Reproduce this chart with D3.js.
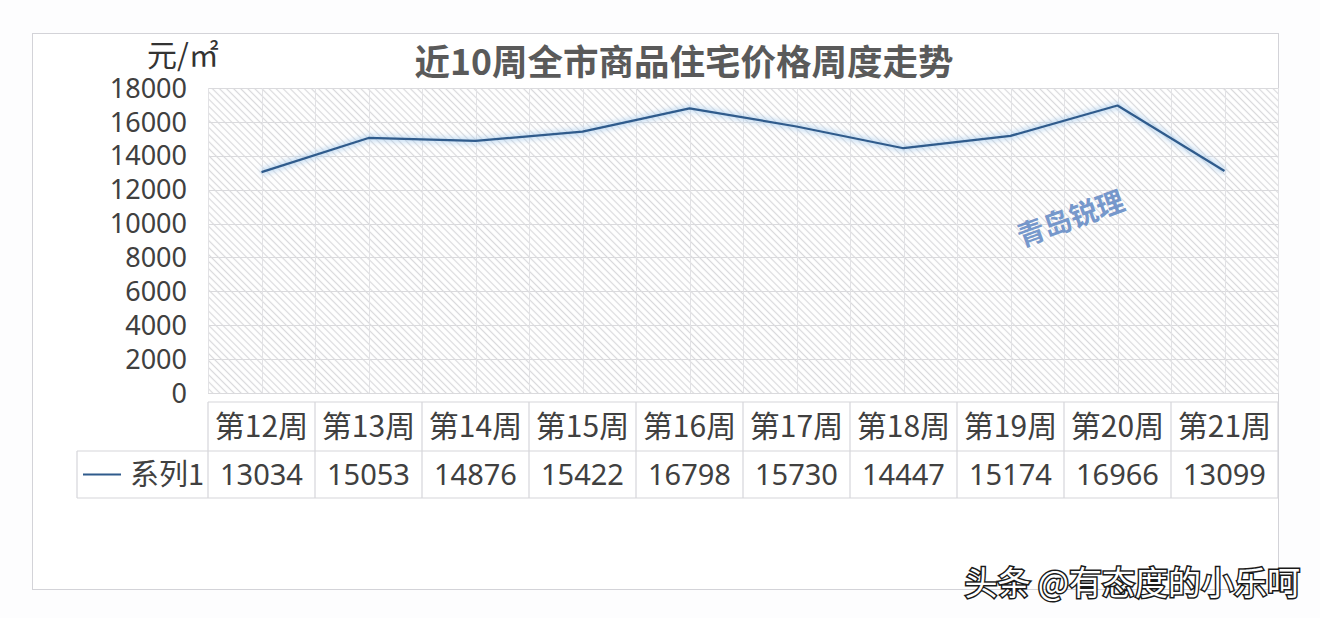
<!DOCTYPE html>
<html>
<head>
<meta charset="utf-8">
<script src="https://cdn.jsdelivr.net/npm/d3@7"></script>
<style>
  html, body { margin: 0; padding: 0; background: #fdfdfe; }
  svg { display: block; }
  text { font-family: "Noto Sans CJK SC", "Noto Sans", sans-serif; }
</style>
</head>
<body>
<svg id="chart" width="1320" height="618"></svg>
<script>
const categories = ["第12周","第13周","第14周","第15周","第16周","第17周","第18周","第19周","第20周","第21周"];
const values = [13034, 15053, 14876, 15422, 16798, 15730, 14447, 15174, 16966, 13099];
const yTicks = [0, 2000, 4000, 6000, 8000, 10000, 12000, 14000, 16000, 18000];
const seriesName = "系列1";
const title = "近10周全市商品住宅价格周度走势";
const unitLabel = "元/㎡";
const watermark = "青岛锐理";
const footer = "头条 @有态度的小乐呵";

const svg = d3.select("#chart");
const W = 1320, H = 618;
const plot = { x0: 208, x1: 1278, y0: 88, y1: 393 };
const table = { top: 402, mid: 451, bottom: 498, legendLeft: 77 };
const textColor = "#404040";
const gridColor = "#dadadd";
const lineColor = "#2f5b8c";

// background
svg.append("rect").attr("width", W).attr("height", H).attr("fill", "#fdfdfe");
// outer chart border
svg.append("rect").attr("x", 32.5).attr("y", 33.5).attr("width", 1246).attr("height", 556)
  .attr("fill", "#ffffff").attr("stroke", "#d3d3d8").attr("stroke-width", 1);

const x = d3.scaleBand().domain(categories).range([plot.x0, plot.x1]).padding(0);
const y = d3.scaleLinear().domain([0, 18000]).range([plot.y1, plot.y0]);

// hatch pattern
const defs = svg.append("defs");
const pat = defs.append("pattern").attr("id", "hatch").attr("patternUnits", "userSpaceOnUse")
  .attr("width", 8).attr("height", 5).attr("patternTransform", "rotate(45)");
pat.append("rect").attr("width", 8).attr("height", 5).attr("fill", "#ffffff");
pat.append("line").attr("x1", 0).attr("y1", 2.5).attr("x2", 8).attr("y2", 2.5)
  .attr("stroke", "#d9d9dc").attr("stroke-width", 1.2);
const glow = defs.append("filter").attr("id", "glow").attr("x", "-5%").attr("y", "-20%").attr("width", "110%").attr("height", "140%");
glow.append("feGaussianBlur").attr("stdDeviation", 2.5);

svg.append("rect").attr("x", plot.x0).attr("y", plot.y0)
  .attr("width", plot.x1 - plot.x0).attr("height", plot.y1 - plot.y0)
  .attr("fill", "url(#hatch)");

// gridlines: horizontal
svg.append("g").selectAll("line").data(yTicks).join("line")
  .attr("x1", plot.x0).attr("x2", plot.x1)
  .attr("y1", d => Math.round(y(d)) + 0.5).attr("y2", d => Math.round(y(d)) + 0.5)
  .attr("stroke", gridColor).attr("stroke-width", 1);
// gridlines: vertical at category boundaries and centres
const vLines = [];
categories.forEach(c => { vLines.push(x(c)); vLines.push(x(c) + x.bandwidth() / 2); });
vLines.push(plot.x1);
svg.append("g").selectAll("line").data(vLines).join("line")
  .attr("x1", d => Math.round(d) + 0.5).attr("x2", d => Math.round(d) + 0.5)
  .attr("y1", plot.y0).attr("y2", plot.y1)
  .attr("stroke", "#e2e2e5").attr("stroke-width", 1);

// y axis labels
const yAxis = d3.axisLeft(y).tickValues(yTicks).tickSize(0).tickPadding(21).tickFormat(d3.format("d"));
const gy = svg.append("g").attr("transform", `translate(${plot.x0},0)`).call(yAxis);
gy.select(".domain").remove();
gy.selectAll("text").attr("font-size", 27).attr("fill", textColor)
  .style("font-family", "'Noto Sans', 'Open Sans', sans-serif").attr("dy", "0.34em");

// unit label
svg.append("text").attr("x", 147).attr("y", 66).attr("font-size", 30).attr("fill", "#333")
  .text(unitLabel);

// title
svg.append("text").attr("x", 684).attr("y", 75).attr("text-anchor", "middle")
  .attr("font-size", 35.5).attr("font-weight", "bold").attr("fill", "#5a5a5a").text(title);

// line
const lineGen = d3.line().x((d, i) => x(categories[i]) + x.bandwidth() / 2).y(d => y(d));
svg.append("path").datum(values).attr("d", lineGen).attr("fill", "none")
  .attr("stroke", "#a9cdef").attr("stroke-width", 7).attr("stroke-opacity", 0.6)
  .attr("filter", "url(#glow)");
svg.append("path").datum(values).attr("d", lineGen).attr("fill", "none")
  .attr("stroke", lineColor).attr("stroke-width", 2.2).attr("stroke-linejoin", "round");

// watermark
svg.append("text").attr("transform", "translate(1074,228) rotate(-20)")
  .attr("text-anchor", "middle").attr("font-size", 28).attr("font-weight", "bold")
  .attr("fill", "#5f87c4").attr("fill-opacity", 0.85).text(watermark);

// data table
const tg = svg.append("g");
const tl = (x1, y1, x2, y2) => tg.append("line").attr("x1", x1).attr("y1", y1).attr("x2", x2).attr("y2", y2)
  .attr("stroke", "#d6d6da").attr("stroke-width", 1.2);
tl(plot.x0, table.top, plot.x1, table.top);
tl(table.legendLeft, table.mid, plot.x1, table.mid);
tl(table.legendLeft, table.bottom, plot.x1, table.bottom);
tl(table.legendLeft, table.mid, table.legendLeft, table.bottom);
tg.selectAll(".vb").data(categories.map(c => x(c)).concat([plot.x1])).join("line")
  .attr("x1", d => d).attr("x2", d => d).attr("y1", table.top).attr("y2", table.bottom)
  .attr("stroke", "#d6d6da").attr("stroke-width", 1.2);

tg.selectAll(".cat").data(categories).join("text")
  .attr("x", d => x(d) + x.bandwidth() / 2).attr("y", (table.top + table.mid) / 2)
  .attr("dy", "0.36em").attr("text-anchor", "middle").attr("font-size", 30).attr("fill", textColor)
  .text(d => d);
tg.selectAll(".val").data(values).join("text")
  .attr("x", (d, i) => x(categories[i]) + x.bandwidth() / 2).attr("y", (table.mid + table.bottom) / 2)
  .attr("dy", "0.36em").attr("text-anchor", "middle").attr("font-size", 29).attr("fill", textColor)
  .style("font-family", "'Noto Sans', 'Open Sans', sans-serif")
  .text(d => d);

// legend key in table
const legY = (table.mid + table.bottom) / 2;
tg.append("line").attr("x1", 83).attr("x2", 121).attr("y1", legY).attr("y2", legY)
  .attr("stroke", lineColor).attr("stroke-width", 2.2);
tg.append("text").attr("x", 204).attr("y", legY).attr("dy", "0.36em").attr("text-anchor", "end")
  .attr("font-size", 29).attr("fill", textColor).text(seriesName);

// footer watermark
svg.append("text").attr("x", 1300).attr("y", 595).attr("text-anchor", "end")
  .attr("font-size", 33).attr("fill", "#ffffff").attr("stroke", "#1a1a1a").attr("stroke-width", 3)
  .attr("paint-order", "stroke").text(footer);
</script>
</body>
</html>
